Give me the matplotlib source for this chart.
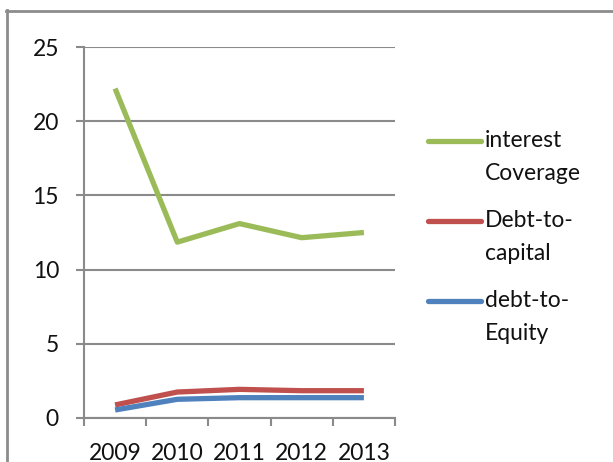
import matplotlib
matplotlib.use("Agg")
import matplotlib.pyplot as plt
from matplotlib.lines import Line2D
import numpy as np

plt.rcParams['font.family'] = ['Lato', 'DejaVu Sans']

years = ["2009", "2010", "2011", "2012", "2013"]
interest_coverage = [22.2, 11.85, 13.1, 12.15, 12.5]
debt_to_capital = [0.88, 1.75, 1.93, 1.84, 1.84]
debt_to_equity = [0.54, 1.26, 1.37, 1.37, 1.37]

series_names = ["interest\nCoverage", "Debt-to-\ncapital", "debt-to-\nEquity"]
series_values = [interest_coverage, debt_to_capital, debt_to_equity]
colors = ["#9BBB59", "#C0504D", "#4F81BD"]
text_color = "#111111"

W, H = 613, 462
fig = plt.figure(figsize=(W / 100, H / 100), dpi=100)
fig.patch.set_facecolor("white")

ax = fig.add_axes([84 / W, 1 - 418 / H, 311 / W, 371 / H])
x = np.arange(len(years))
for vals, c in zip(series_values, colors):
    ax.plot(x, vals, color=c, lw=3.8, solid_capstyle="butt", solid_joinstyle="round", zorder=3)

ax.set_xlim(-0.5, len(years) - 0.5)
ax.set_ylim(0, 25)
ax.set_yticks(np.arange(0, 26, 5))
ax.yaxis.grid(True, color="#8A8A8A", lw=1.5)
ax.set_axisbelow(True)

# category boundaries as ticks, labels centred under each point
ax.set_xticks(np.arange(-0.5, len(years), 1.0))
ax.set_xticklabels([])
ax.set_xticks(x, minor=True)
ax.set_xticklabels(years, minor=True)
ax.tick_params(axis="x", which="major", length=5.5, width=1.5, color="#8A8A8A", direction="out")
ax.tick_params(axis="x", which="minor", length=0, pad=18, labelsize=16.5, labelcolor=text_color)
ax.tick_params(axis="y", length=6, width=1.5, color="#8A8A8A", pad=12, labelsize=16.5, labelcolor=text_color)

for s in ["top", "right"]:
    ax.spines[s].set_visible(False)
for s in ["left", "bottom"]:
    ax.spines[s].set_color("#8A8A8A")
    ax.spines[s].set_linewidth(1.5)

# legend drawn beside the plot
leg_rows = [141, 221, 301]
for name, c, yp in zip(series_names, colors, leg_rows):
    yf = 1 - yp / H
    fig.add_artist(Line2D([428 / W, 481 / W], [yf, yf], color=c, lw=3.8,
                          solid_capstyle="round", transform=fig.transFigure))
    fig.text(485 / W, 1 - (yp - 11) / H, name, ha="left", va="top", fontsize=16.5,
             color=text_color, linespacing=1.7, transform=fig.transFigure)

# chart area frame (top and left edges)
fc = "#8C8C8C"
fig.add_artist(Line2D([6 / W, 1.0], [1 - 10.5 / H, 1 - 10.5 / H], color=fc, lw=2, transform=fig.transFigure))
fig.add_artist(Line2D([6.5 / W, 6.5 / W], [0, 1 - 10 / H], color=fc, lw=2, transform=fig.transFigure))

fig.savefig("out.png", dpi=100)
